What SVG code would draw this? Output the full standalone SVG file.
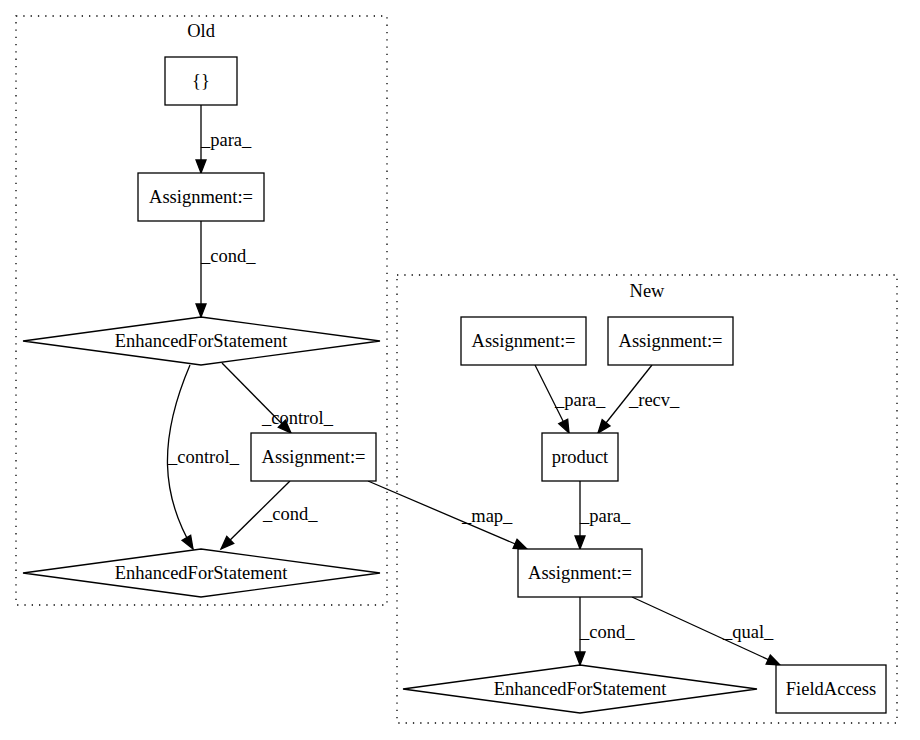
<svg xmlns="http://www.w3.org/2000/svg" width="920" height="740" viewBox="0 0 920 740">
<style>
text{font-family:"Liberation Serif","Times New Roman",serif;font-size:18.5px;fill:#000}
.c{text-anchor:middle}
.node{fill:#fff;stroke:#000;stroke-width:1.3}
.cl{fill:none;stroke:#000;stroke-width:1.3;stroke-dasharray:1.3,6}
.e{fill:none;stroke:#000;stroke-width:1.3;marker-end:url(#ah)}
</style>
<defs>
<marker id="ah" markerUnits="userSpaceOnUse" markerWidth="14" markerHeight="10" refX="13" refY="5" orient="auto" overflow="visible">
<path d="M0,0 L13,5 L0,10 z" fill="#000" stroke="#000" stroke-width="1.3"/>
</marker>
</defs>
<rect width="920" height="740" fill="#fff"/>
<g id="cluster_old">
<rect class="cl" x="16" y="16" width="371" height="589"/>
<text class="c" x="201" y="37">Old</text>
</g>
<g id="cluster_new">
<rect class="cl" x="397" y="275" width="500" height="448"/>
<text class="c" x="647" y="297">New</text>
</g>
<g id="connectors">
<path class="e" d="M201,105 L201,173"/>
<text x="201" y="146">_para_</text>
<path class="e" d="M201,221 L201,317"/>
<text x="201" y="262">_cond_</text>
<path class="e" d="M222,363 L291,433"/>
<text x="262" y="424">_control_</text>
<path class="e" d="M190,365 C158,440 161,495 193,549"/>
<text x="168" y="463">_control_</text>
<path class="e" d="M290,481 L221,549"/>
<text x="263" y="520">_cond_</text>
<path class="e" d="M368,481 L527,549"/>
<text x="462" y="522">_map_</text>
<path class="e" d="M535,365 L569,433"/>
<text x="555" y="406">_para_</text>
<path class="e" d="M652,365 L598,433"/>
<text x="629" y="406">_recv_</text>
<path class="e" d="M580,481 L580,549"/>
<text x="580" y="522">_para_</text>
<path class="e" d="M580,597 L580,665"/>
<text x="580" y="638">_cond_</text>
<path class="e" d="M632,597 L780,665"/>
<text x="723" y="638">_qual_</text>
</g>
<g id="n_braces">
<rect class="node" x="165" y="57" width="72" height="48"/>
<text class="c" x="201" y="87">{}</text>
</g>
<g id="n_old_assign1">
<rect class="node" x="138" y="173" width="126" height="48"/>
<text class="c" x="201" y="203">Assignment:=</text>
</g>
<g id="n_old_for1">
<polygon class="node" points="201,317 380,341 201,365 23,341"/>
<text class="c" x="201" y="347">EnhancedForStatement</text>
</g>
<g id="n_old_assign2">
<rect class="node" x="251" y="433" width="125" height="48"/>
<text class="c" x="313.5" y="463">Assignment:=</text>
</g>
<g id="n_old_for2">
<polygon class="node" points="201,549 380,573 201,597 23,573"/>
<text class="c" x="201" y="579">EnhancedForStatement</text>
</g>
<g id="n_new_assign1">
<rect class="node" x="461" y="317" width="125" height="48"/>
<text class="c" x="523.5" y="347">Assignment:=</text>
</g>
<g id="n_new_assign2">
<rect class="node" x="608" y="317" width="125" height="48"/>
<text class="c" x="670.5" y="347">Assignment:=</text>
</g>
<g id="n_product">
<rect class="node" x="542" y="433" width="76" height="48"/>
<text class="c" x="580" y="463">product</text>
</g>
<g id="n_new_assign3">
<rect class="node" x="518" y="549" width="124" height="48"/>
<text class="c" x="580" y="579">Assignment:=</text>
</g>
<g id="n_new_for">
<polygon class="node" points="580,665 757,689 580,713 403,689"/>
<text class="c" x="580" y="695">EnhancedForStatement</text>
</g>
<g id="n_fieldaccess">
<rect class="node" x="776" y="665" width="110" height="48"/>
<text class="c" x="831" y="695">FieldAccess</text>
</g>
</svg>
